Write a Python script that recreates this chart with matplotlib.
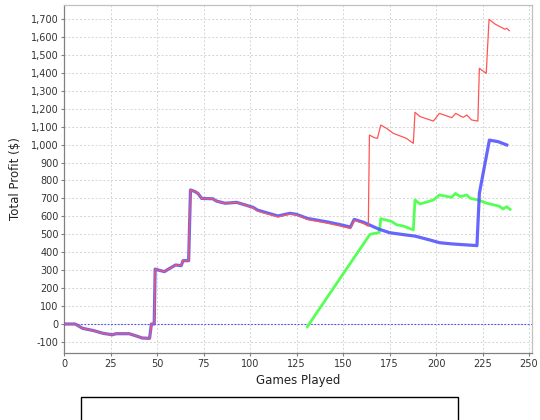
import matplotlib
matplotlib.use("Agg")
import matplotlib.pyplot as plt
from matplotlib.ticker import FuncFormatter, MultipleLocator
from matplotlib.patches import Rectangle

blue_x = [0, 6, 10, 16, 21, 26, 28, 35, 39, 42, 46, 47, 48.5, 49, 51, 54, 56, 60, 63, 64, 67, 68, 70, 72, 74,
          80, 82, 86.6, 92.8, 101.7, 104, 107, 115, 121.5, 125, 131, 141, 148, 154, 156, 161, 163.6, 169,
          175, 184, 188.7, 196.8, 202, 209, 222, 223.3, 228.7, 233.5, 238]
blue_y = [0, 0, -24, -37, -52, -60, -54, -54, -67, -78, -80, 0, 0, 306, 300, 292, 305, 329, 325, 353, 353, 747, 740, 728, 700,
          698, 685, 673, 678, 650, 635, 626, 602, 617, 611, 588, 570, 555, 540, 583, 567, 555, 530,
          509, 496, 490, 468, 453, 446, 437, 728, 1025, 1016, 998]

red_x = [0, 6, 10, 16, 21, 26, 28, 35, 39, 42, 46, 47, 48.5, 49, 51, 54, 56, 60, 63, 64, 67, 68, 70, 72, 74,
         80, 82, 86.6, 92.8, 101.7, 104, 107, 115, 121.5, 125, 131, 141, 148, 154, 156, 161, 163.6, 164.2,
         167, 168.5, 170.3, 173.5, 177, 184, 187.8, 188.7, 191.4, 198.6, 201.8, 208.5, 210.6, 213, 214.7,
         216.5, 218.3, 219.2, 222.5, 223.3, 227, 228.5, 231.7, 234.4, 237, 238, 239.4]
red_y = [0, 0, -24, -37, -52, -60, -54, -54, -67, -78, -80, 0, 0, 306, 300, 292, 305, 329, 325, 353, 353, 747, 740, 728, 700,
         698, 685, 673, 678, 648, 630, 620, 597, 613, 607, 582, 563, 547, 532, 578, 560, 545, 1053,
         1038, 1035, 1109, 1090, 1063, 1035, 1007, 1180, 1156, 1131, 1174, 1150, 1174, 1160, 1152,
         1165, 1146, 1137, 1131, 1425, 1397, 1698, 1672, 1657, 1643, 1648, 1635]

green_x = [130.8, 164.5, 169.5, 170.3, 176, 178.9, 182.4, 186.9, 187.8, 188.7, 191.4, 198.6, 201.8, 208.4,
           210.4, 213, 216.5, 218.3, 222.7, 227.3, 229, 233.5, 234.4, 236, 238, 239.8]
green_y = [-15, 500, 510, 587, 572, 553, 546, 528, 524, 691, 669, 691, 719, 706,
           728, 710, 719, 701, 691, 673, 669, 658, 654, 641, 654, 639]

x_ticks = [0, 25, 50, 75, 100, 125, 150, 175, 200, 225, 250]
y_ticks = list(range(-100, 1800, 100))

fig = plt.figure(figsize=(5.4, 4.2), dpi=100)
ax = fig.add_axes([64/540, 1-353/420, (532-64)/540, (353-5)/420])

ax.set_xlim(0, 251.6)
ax.set_ylim(-161.6, 1778)
ax.set_xticks(x_ticks)
ax.set_yticks(y_ticks)
ax.yaxis.set_major_formatter(FuncFormatter(lambda v, p: f"{int(v):,}"))

ax.grid(True, color='#d4d4d4', linestyle=(0, (2, 2)), linewidth=0.7)
ax.set_axisbelow(True)

ax.axhline(0, color='#4a4aff', linestyle=(0, (1.5, 1.5)), linewidth=0.8, zorder=1)

ax.plot(green_x, green_y, color='#55ff55', linewidth=2.0, zorder=2)
ax.plot(blue_x, blue_y, color='#5555ff', linewidth=2.3, alpha=0.9, zorder=3)
ax.plot(red_x, red_y, color='#ff5555', linewidth=0.9, zorder=4)

for s in ['left', 'bottom']:
    ax.spines[s].set_color('#808080')
    ax.spines[s].set_linewidth(0.9)
for s in ['top', 'right']:
    ax.spines[s].set_color('#c0c0c0')
    ax.spines[s].set_linewidth(0.9)

ax.tick_params(axis='both', labelsize=7, colors='#808080', labelcolor='#333333', length=2, width=0.8, pad=2)

ax.set_xlabel('Games Played', fontsize=8.5, color='#222222', labelpad=4)
ax.set_ylabel('Total Profit ($)', fontsize=8.5, color='#222222', labelpad=6)

rect = Rectangle((81/540, -0.1), (458-81)/540, 0.1 + (420-397)/420, transform=fig.transFigure,
                 fill=False, edgecolor='black', linewidth=1.0)
fig.patches.append(rect)

fig.savefig('out.png', dpi=100)
